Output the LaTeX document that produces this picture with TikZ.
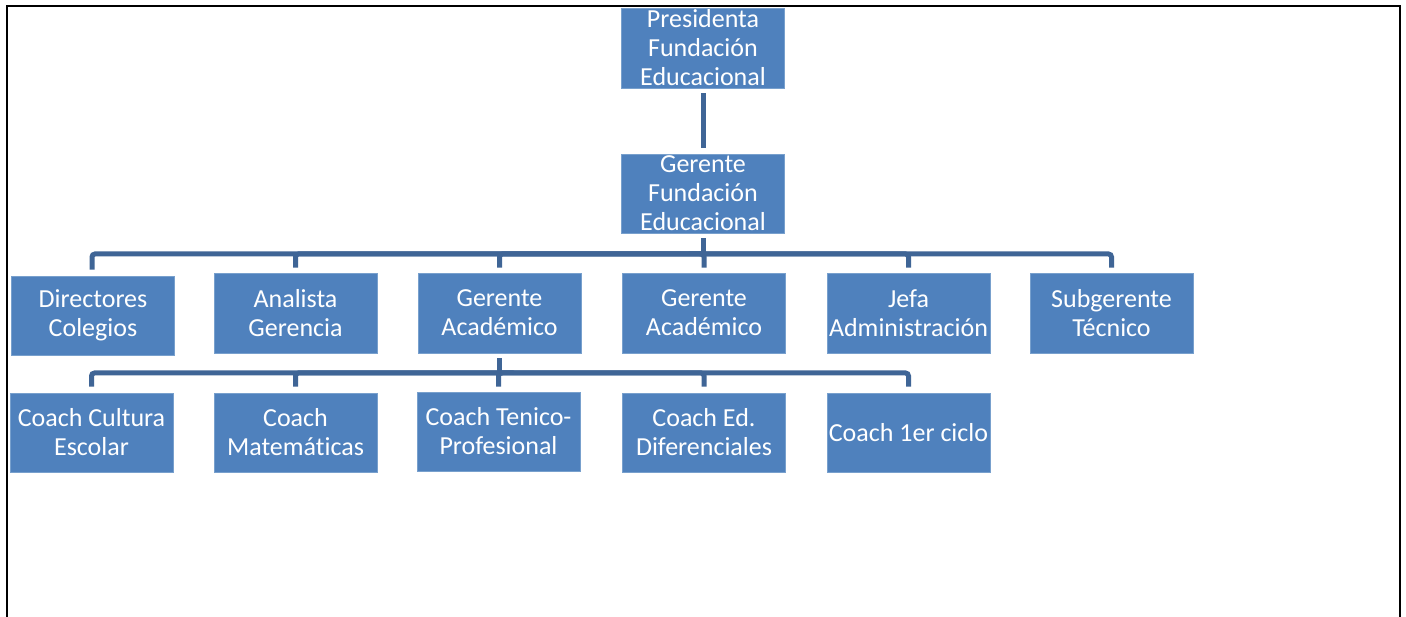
\documentclass[tikz,border=0pt]{standalone}
\usepackage{fontspec}
\setmainfont[Ligatures={NoCommon}]{Carlito}
\definecolor{boxblue}{RGB}{79,129,189}
\definecolor{boxedge}{RGB}{120,160,205}
\definecolor{connblue}{RGB}{63,101,150}
\tikzset{
  orgbox/.style={rectangle, fill=boxblue, draw=boxedge, line width=0.6pt, inner sep=0pt,
    minimum width=163pt, minimum height=79pt, text=white, align=center,
    font=\fontsize{26}{29}\selectfont},
  conn/.style={draw=connblue, line width=5pt, rounded corners=3pt},
  frame/.style={draw=black, line width=2pt}
}
\begin{document}
\begin{tikzpicture}[x=1pt,y=-1pt]
\useasboundingbox (0,0) rectangle (1406,617);
\fill[white] (0,0) rectangle (1406,617);
\coordinate (fbl) at (7,617);
\coordinate (ftl) at (7,6);
\coordinate (ftr) at (1400,6);
\coordinate (fbr) at (1400,617);
\draw[frame] (fbl) -- (ftl) -- (ftr) -- (fbr);

\node[orgbox, minimum height=80pt] (pres) at (703,48) {Presidenta\\Fundación\\Educacional};
\node[orgbox] (ger) at (703,193.5) {Gerente\\Fundación\\Educacional};

\node[orgbox] (dir) at (93,315.5) {Directores\\Colegios};
\node[orgbox, minimum height=80pt] (ana) at (295.5,313) {Analista\\Gerencia};
\node[orgbox, minimum height=80pt] (ga1) at (499.5,313) {Gerente\\Académico};
\node[orgbox, minimum height=80pt] (ga2) at (704,313) {Gerente\\Académico};
\node[orgbox, minimum height=80pt] (jefa) at (908.5,313) {Jefa\\Administración};
\node[orgbox, minimum height=80pt] (sub) at (1111.5,313) {Subgerente\\Técnico};

\node[orgbox] (cult) at (91.5,432.5) {Coach Cultura\\Escolar};
\node[orgbox] (mat) at (295.5,432.5) {Coach\\Matemáticas};
\node[orgbox] (ten) at (498.5,431.5) {Coach Tenico-\\Profesional};
\node[orgbox] (ed) at (704,432.5) {Coach Ed.\\Diferenciales};
\node[orgbox] (c1) at (908.5,432.5) {Coach 1er ciclo};

\coordinate (busA) at (703,254);
\coordinate (busB) at (499.5,373);

\draw[conn] ([yshift=-5pt]pres.south) -- ([yshift=6pt]ger.north);
\draw[conn] ([yshift=-5pt]ger.south) -- (busA);
\draw[conn] ([yshift=6pt]dir.north -| 92,0) |- (busA);
\draw[conn] ([yshift=5pt]ana.north) |- (busA);
\draw[conn] ([yshift=5pt]ga1.north) |- (busA);
\draw[conn] ([yshift=5pt]ga2.north) |- (busA);
\draw[conn] ([yshift=5pt]jefa.north) |- (busA);
\draw[conn] ([yshift=5pt]sub.north) |- (busA);

\draw[conn] ([yshift=-5pt]ga1.south) -- (busB);
\draw[conn] ([yshift=6pt]cult.north) |- (busB);
\draw[conn] ([yshift=6pt]mat.north) |- (busB);
\draw[conn] ([yshift=5pt]ten.north) |- (busB);
\draw[conn] ([yshift=6pt]ed.north) |- (busB);
\draw[conn] ([yshift=6pt]c1.north) |- (busB);
\end{tikzpicture}
\end{document}
